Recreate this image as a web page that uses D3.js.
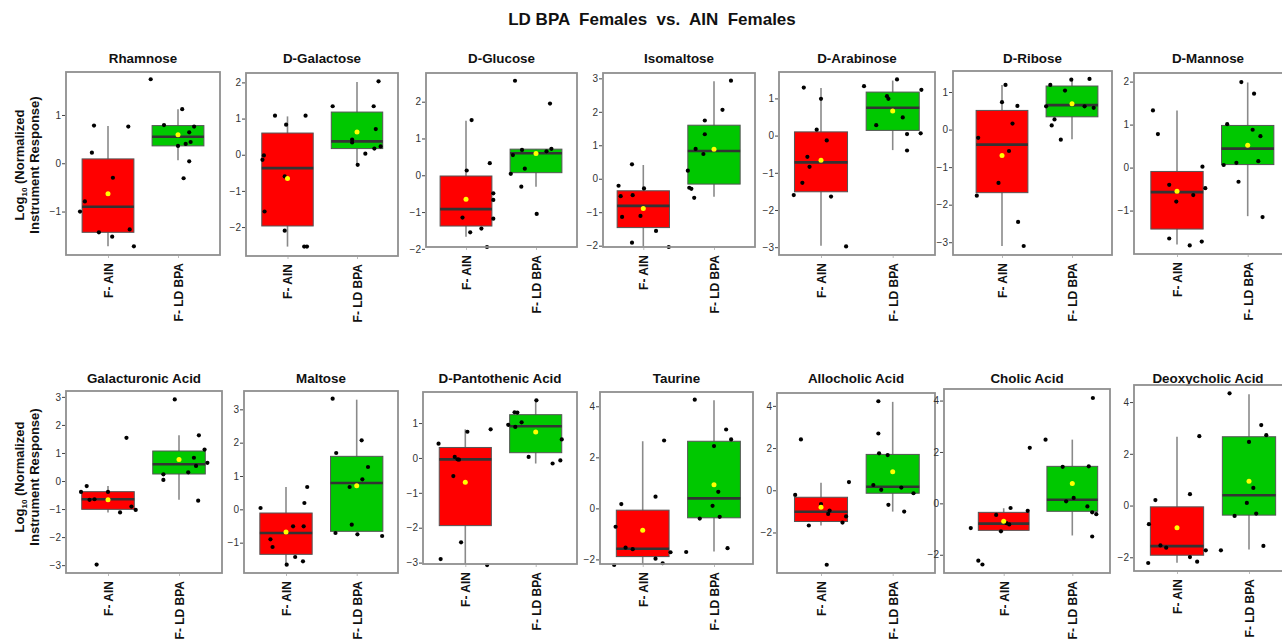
<!DOCTYPE html>
<html><head><meta charset="utf-8">
<script src="https://cdn.jsdelivr.net/npm/d3@7"></script>
<style>
body{margin:0;background:#fff}
svg{display:block;font-family:"Liberation Sans",Arial,sans-serif}
</style>
</head><body><svg id="c" width="1282" height="643"></svg>
<script>
// ---------------- DATA ----------------
const chartTitle = "LD BPA  Females  vs.  AIN  Females";
const metabolites = ["Rhamnose","D-Galactose","D-Glucose","Isomaltose","D-Arabinose","D-Ribose","D-Mannose",
  "Galacturonic Acid","Maltose","D-Pantothenic Acid","Taurine","Allocholic Acid","Cholic Acid","Deoxycholic Acid"];
const groups = ["F- AIN","F- LD BPA"];
const yDomains = [[-1.90,1.89],[-2.80,2.26],[-1.95,2.78],[-2.04,3.16],[-3.21,1.71],[-3.34,1.56],[-2.01,2.20],
  [-3.28,3.21],[-1.91,3.55],[-3.04,1.89],[-2.18,4.56],[-3.92,4.61],[-2.71,4.45],[-2.53,4.66]];
const yTicks = [[-1,0,1],[-2,-1,0,1,2],[-2,-1,0,1,2],[-2,-1,0,1,2,3],[-3,-2,-1,0,1],[-3,-2,-1,0,1],[-1,0,1,2],
  [-3,-2,-1,0,1,2,3],[-1,0,1,2,3],[-3,-2,-1,0,1],[-2,0,2,4],[-2,0,2,4],[-2,0,2,4],[-2,0,2,4]];

// box stats: [lower whisker, Q1, median, Q3, upper whisker]
const ainBox = [[-1.72,-1.43,-0.90,0.09,0.77],[-2.54,-1.97,-0.37,0.60,1.06],[-1.67,-1.38,-0.92,-0.02,1.48],
  [-2.02,-1.46,-0.81,-0.36,0.41],[-2.96,-1.51,-0.72,0.10,1.28],[-3.10,-1.68,-0.40,0.51,1.19],[-1.79,-1.43,-0.57,-0.09,1.33],
  [-1.12,-1.01,-0.65,-0.38,-0.18],[-1.65,-1.35,-0.71,-0.11,0.67],[-3.04,-1.94,-0.04,0.30,0.82],[-2.18,-1.89,-1.58,-0.07,2.63],
  [-1.67,-1.48,-1.02,-0.33,0.36],[-1.05,-1.05,-0.79,-0.35,-0.19],[-2.21,-1.92,-1.57,-0.05,2.66]];
const ldBox = [[0.06,0.36,0.55,0.78,1.12],[-0.28,0.17,0.37,1.18,2.01],[-0.31,0.07,0.60,0.71,0.71],
  [-0.54,-0.16,0.83,1.60,2.91],[-0.39,0.14,0.75,1.17,1.48],[-0.26,0.34,0.65,1.16,1.33],[-1.13,0.07,0.44,0.98,1.98],
  [-0.67,0.25,0.60,1.07,1.63],[-0.66,-0.66,0.79,1.59,3.29],[-0.16,0.15,0.91,1.24,1.65],[-1.69,-0.37,0.39,2.63,4.24],
  [-1.01,-0.14,0.17,1.70,4.19],[-1.25,-0.31,0.14,1.44,2.48],[-1.70,-0.37,0.40,2.66,4.30]];
const ainMean = [-0.63,-0.66,-0.65,-0.89,-0.66,-0.69,-0.55,-0.67,-0.68,-0.70,-0.86,-0.80,-0.70,-0.86];
const ldMean  = [0.59,0.63,0.59,0.88,0.66,0.69,0.52,0.77,0.71,0.74,0.93,0.88,0.77,0.94];

const ainPoints = [
  [0.78,0.22,-0.30,-0.79,-1.00,-1.43,-1.52,-1.37,-1.72,0.76],
  [1.08,1.08,0.83,-0.02,-0.14,-1.57,-0.60,-2.10,-2.54,-2.54],
  [1.50,0.13,0.33,-0.49,-0.67,-1.18,-1.15,-1.45,-1.55,-1.95],
  [0.43,-0.21,-0.52,-0.49,-0.29,-1.14,-1.11,-1.56,-1.91,-2.04],
  [1.29,0.99,0.16,-0.13,-0.57,-0.84,-1.27,-1.60,-1.64,-2.98],
  [1.19,0.73,0.63,0.16,-0.22,-0.57,-1.42,-1.76,-2.46,-3.10],
  [1.33,0.78,0.02,-0.40,-0.48,-0.64,-0.79,-1.65,-1.72,-1.81],
  [-0.18,-0.39,-0.39,-0.67,-0.65,-0.91,-1.03,-1.12,1.54,-2.98],
  [0.04,0.67,0.19,-0.51,-0.51,-0.90,-1.13,-1.43,-1.56,-1.66],
  [0.41,0.75,0.82,0.03,-0.04,-0.05,-0.52,-2.42,-2.90,-3.07],
  [2.66,0.46,0.17,-0.72,-1.54,-1.60,-1.72,-1.97,-2.15,-2.22],
  [2.41,0.39,-0.22,-0.65,-0.96,-1.12,-1.24,-1.53,-1.67,-3.53],
  [2.16,-0.29,-0.18,-0.45,-0.77,-0.82,-1.09,-0.96,-2.23,-2.38],
  [2.68,0.44,0.21,-0.72,-1.54,-1.63,-1.73,-1.99,-2.17,-2.22]];
const ainJitter = [
  [-0.20,-0.23,0.07,-0.33,-0.40,-0.13,0.06,0.31,0.37,0.29],
  [-0.18,0.26,-0.02,-0.34,-0.36,-0.33,-0.04,-0.04,0.24,0.28],
  [0.08,0.01,0.34,0.39,0.39,0.39,-0.05,0.22,0.06,0.30],
  [-0.16,-0.35,-0.32,-0.15,0.01,-0.30,-0.04,0.18,-0.16,0.36],
  [-0.24,0.00,-0.06,0.08,-0.19,-0.16,-0.26,-0.38,0.14,0.35],
  [0.05,0.00,0.22,0.15,-0.34,0.10,-0.05,-0.36,0.23,0.31],
  [-0.34,-0.27,0.36,-0.11,0.40,0.23,-0.01,-0.11,0.35,0.18],
  [-0.30,-0.38,0.00,-0.26,-0.19,0.33,0.39,0.17,0.26,-0.16],
  [-0.36,0.30,0.26,0.10,0.25,-0.22,-0.19,0.13,0.24,0.01],
  [-0.38,0.03,0.36,-0.15,-0.11,-0.09,-0.17,-0.06,-0.35,0.31],
  [0.30,0.18,-0.30,-0.38,-0.24,-0.14,0.39,0.18,0.28,-0.40],
  [-0.28,0.39,-0.36,0.00,0.12,0.10,0.35,0.30,-0.17,0.08],
  [0.38,0.35,0.10,-0.11,0.04,0.08,-0.04,-0.48,-0.37,-0.31],
  [0.31,0.18,-0.30,-0.39,-0.23,-0.15,0.40,0.18,0.28,-0.40]];
const ldPoints = [
  [1.74,1.12,0.79,0.76,0.64,0.36,0.40,0.44,0.04,-0.31],
  [1.34,1.34,2.03,0.71,0.23,0.17,0.42,0.34,0.03,-0.28],
  [2.57,1.95,0.69,0.55,0.72,0.65,0.18,0.04,-0.31,-1.05],
  [2.93,2.06,1.74,1.33,0.89,0.74,0.24,-0.27,-0.30,-0.57],
  [1.51,1.33,1.23,1.06,0.99,0.49,0.28,0.04,0.06,-0.40],
  [1.33,1.35,1.19,1.04,0.62,0.62,0.58,0.27,0.11,-0.27],
  [1.99,1.72,1.01,0.88,0.73,0.15,0.11,0.06,-0.33,-1.15],
  [2.91,1.63,1.12,0.83,0.54,0.65,0.31,0.24,0.04,-0.70],
  [3.32,2.07,1.69,1.27,0.90,0.67,-0.46,-0.71,-0.75,-0.80],
  [1.65,1.31,1.30,1.02,0.95,0.89,0.53,0.03,-0.07,-0.16],
  [4.26,3.09,2.70,2.44,0.65,0.10,-0.33,-0.40,-1.71,-1.56],
  [4.22,2.69,1.75,1.67,0.25,0.02,0.13,-0.14,-0.69,-1.01],
  [4.10,2.48,1.42,1.44,0.21,0.08,-0.12,-0.35,-0.42,-1.29],
  [4.34,3.11,2.72,2.46,0.68,0.10,-0.31,-0.40,-1.73,-1.56]];
const ldJitter = [
  [-0.39,0.06,-0.20,0.23,0.16,0.00,0.11,0.18,0.16,0.08],
  [-0.35,0.24,0.31,0.27,0.34,0.25,-0.07,-0.07,0.12,0.01],
  [-0.30,0.20,-0.20,-0.33,0.22,0.15,-0.16,-0.36,-0.21,0.01],
  [0.24,0.12,-0.13,-0.13,-0.26,-0.15,-0.37,-0.35,-0.32,-0.28],
  [0.06,-0.40,0.40,-0.08,-0.06,0.14,-0.23,0.20,0.39,0.20],
  [-0.01,0.25,-0.31,-0.10,-0.37,0.18,0.31,-0.25,-0.29,-0.16],
  [-0.09,0.09,-0.29,0.07,0.18,0.15,-0.16,-0.34,-0.13,0.21],
  [-0.06,0.28,0.36,0.21,0.24,0.40,0.13,-0.22,-0.22,0.27],
  [-0.34,0.07,-0.29,0.16,0.08,-0.10,-0.07,-0.30,0.01,0.36],
  [0.01,-0.30,-0.26,-0.20,-0.39,-0.29,0.37,-0.10,0.35,0.24],
  [-0.27,0.17,0.24,0.00,0.06,-0.02,0.08,-0.20,-0.39,0.19],
  [-0.20,-0.20,-0.19,-0.07,-0.27,-0.16,0.12,0.29,-0.06,0.16],
  [0.30,-0.39,-0.14,0.24,0.02,-0.09,0.22,0.29,0.35,0.29],
  [-0.27,0.17,0.24,0.00,0.06,-0.03,0.10,-0.20,-0.39,0.20]];

// ---------------- LAYOUT ----------------
// [left, right, top, bottom, centre of group 1, centre of group 2]
const frames = [
  [66,220,72,255,108,178],[246,398,73,256,287.5,357],[426,577,73,247,466,536],[603,755,73,247,643.3,714],
  [779,935,72,255,821,892.7],[953,1112,71,255,1002,1072],[1134,1290,73,254,1177,1247.7],
  [66,222,391,573,108,179],[244,398,391,573,286,356.7],[423,577,392,564,465.3,535.7],[600,753,392,564,642.7,714],
  [777,935,393,573,821,892.7],[944,1110,389,573,1003.7,1072.3],[1134,1290,385,571,1177,1249]];
const rowTitleY = [63, 383];
const boxHalf = 0.37;
const fills = ["#ff0000","#00c800"];

const svg = d3.select("#c");
svg.append("rect").attr("width",1282).attr("height",643).attr("fill","#fff");

svg.append("text").attr("x",652).attr("y",25).attr("text-anchor","middle")
  .attr("font-size","17px").attr("font-weight","bold").style("white-space","pre")
  .attr("fill","#111").text(chartTitle);

metabolites.forEach((name,i)=>{
  const [L,R,T,B,c1,c2] = frames[i];
  const x = d3.scaleLinear().domain([1,2]).range([c1,c2]);
  const y = d3.scaleLinear().domain(yDomains[i]).range([B,T]);
  const g = svg.append("g");

  g.append("text").attr("x",(L+R)/2 - (R>1282 ? 4 : 0)).attr("y",rowTitleY[i<7?0:1]).attr("text-anchor","middle")
    .attr("font-size","13.4px").attr("font-weight","bold").attr("fill","#111").text(name);

  const boxes = [ainBox[i], ldBox[i]];
  const means = [ainMean[i], ldMean[i]];
  const pts = [ainPoints[i], ldPoints[i]];
  const jit = [ainJitter[i], ldJitter[i]];

  [0,1].forEach(k=>{
    const b = boxes[k], cx = k+1;
    g.append("line").attr("x1",x(cx)).attr("x2",x(cx)).attr("y1",y(b[0])).attr("y2",y(b[4]))
      .attr("stroke","#8a8a8a").attr("stroke-width",1.6);
    g.append("rect").attr("x",x(cx-boxHalf)).attr("width",x(cx+boxHalf)-x(cx-boxHalf))
      .attr("y",y(b[3])).attr("height",Math.max(0.5,y(b[1])-y(b[3])))
      .attr("fill",fills[k]).attr("stroke","#555").attr("stroke-width",1);
    g.append("line").attr("x1",x(cx-boxHalf)).attr("x2",x(cx+boxHalf)).attr("y1",y(b[2])).attr("y2",y(b[2]))
      .attr("stroke","#333").attr("stroke-width",2.6);
    g.selectAll(null).data(pts[k]).enter().append("circle")
      .attr("cx",(d,j)=>x(cx+jit[k][j])).attr("cy",d=>y(d)).attr("r",2.1).attr("fill","#000");
    g.append("circle").attr("cx",x(cx)).attr("cy",y(means[k])).attr("r",2.5).attr("fill","#ffff00");
  });

  g.append("rect").attr("x",L).attr("y",T).attr("width",R-L).attr("height",B-T)
    .attr("fill","none").attr("stroke","#8f8f8f").attr("stroke-width",1.8);

  const ya = g.append("g").attr("transform",`translate(${L-1},0)`)
    .call(d3.axisLeft(y).tickValues(yTicks[i]).tickSize(3).tickPadding(1).tickFormat(d3.format("d")));
  ya.select(".domain").remove();
  ya.selectAll("line").attr("stroke","#444");
  ya.selectAll("text").attr("font-size","10px").attr("fill","#333").attr("font-family","Liberation Sans, Arial, sans-serif");

  const xa = g.append("g").attr("transform",`translate(0,${B+1})`)
    .call(d3.axisBottom(x).tickValues([1,2]).tickSize(2).tickFormat(d=>groups[d-1]));
  xa.select(".domain").remove();
  xa.selectAll("line").attr("stroke","#bbb");
  xa.selectAll("text").attr("transform","rotate(-90)").attr("text-anchor","end")
    .attr("x",-7).attr("y",0).attr("dy","0.36em")
    .attr("font-size","12px").attr("font-weight","bold").attr("fill","#111")
    .attr("font-family","Liberation Sans, Arial, sans-serif");
});

// y-axis titles
[[165],[477]].forEach(([cy])=>{
  const t1 = svg.append("text").attr("transform",`translate(24,${cy}) rotate(-90)`).attr("text-anchor","middle")
    .attr("font-size","13px").attr("font-weight","bold").attr("fill","#111");
  t1.append("tspan").text("Log");
  t1.append("tspan").attr("font-size","8px").attr("dy","3").text("10");
  t1.append("tspan").attr("dy","-3").text(" (Normalized");
  svg.append("text").attr("transform",`translate(39,${cy}) rotate(-90)`).attr("text-anchor","middle")
    .attr("font-size","13px").attr("font-weight","bold").attr("fill","#111").text("Instrument Response)");
});
</script>
</body></html>
